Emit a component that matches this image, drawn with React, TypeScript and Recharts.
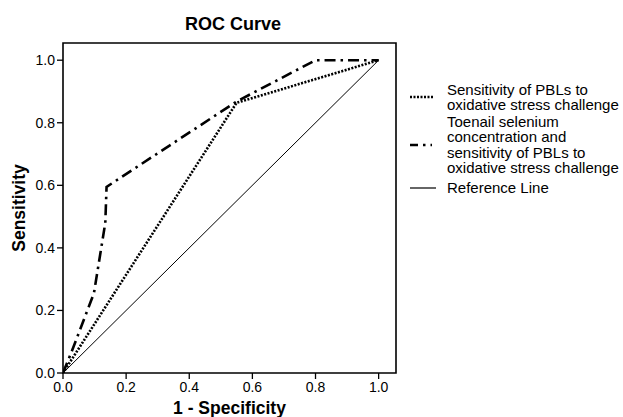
import { LineChart, Line, XAxis, YAxis, ReferenceArea, Label } from 'recharts';

// ROC curve points
const pblX = [0, 0.55, 1.0];
const pblY = [0, 0.864, 1.0];

const comboX = [0, 0.03, 0.098, 0.134, 0.138, 0.55, 0.8, 1.0];
const comboY = [0, 0.075, 0.255, 0.48, 0.595, 0.868, 1.0, 1.0];

const refX = [0, 1];
const refY = [0, 1];

const axisTicks = [0, 0.2, 0.4, 0.6, 0.8, 1.0];

const toPoints = (xs: number[], ys: number[]) => xs.map((x, i) => ({ x, y: ys[i] }));

const font = '"Liberation Sans", Arial, Helvetica, sans-serif';
const LH = 15.5;

function LegendItem({ center, lines, dash, width, sw }: { center: number; lines: string[]; dash?: string; width: number; sw: number }) {
    const h = lines.length * LH;
    return (
        <div style={{ position: 'absolute', left: 408, top: center - h / 2, height: h, display: 'flex', alignItems: 'center' }}>
            <svg width={34} height={10} style={{ flex: 'none' }}>
                <line x1={2} x2={2 + width} y1={5} y2={5} stroke="#000" strokeWidth={sw} strokeDasharray={dash} />
            </svg>
            <div style={{ marginLeft: 5, fontSize: 15, lineHeight: `${LH}px`, whiteSpace: 'nowrap' }}>
                {lines.map((l) => (
                    <div key={l}>{l}</div>
                ))}
            </div>
        </div>
    );
}

export default function App() {
    return (
        <div style={{ position: 'absolute', left: 0, top: 0, width: 623, height: 417, overflow: 'hidden', fontFamily: font, background: '#fff', color: '#000' }}>
            <div style={{ position: 'absolute', left: 133, top: 13, width: 200, textAlign: 'center', fontSize: 18, fontWeight: 'bold', lineHeight: '22px' }}>
                ROC Curve
            </div>
            <LineChart width={623} height={417} margin={{ top: 43, right: 227, left: 0, bottom: 0 }}>
                <XAxis
                    type="number"
                    dataKey="x"
                    domain={[0, 1.055]}
                    ticks={axisTicks}
                    tickFormatter={(v: number) => v.toFixed(1)}
                    allowDataOverflow
                    height={44}
                    tickSize={6}
                    tickMargin={3}
                    axisLine={false}
                    tickLine={{ stroke: '#000', strokeWidth: 1.3 }}
                    tick={{ fill: '#000', fontSize: 14, fontFamily: font }}
                >
                    <Label value="1 - Specificity" position="insideBottom" offset={3} style={{ fontSize: 17.5, fontWeight: 'bold', fill: '#000', fontFamily: font }} />
                </XAxis>
                <YAxis
                    type="number"
                    dataKey="y"
                    domain={[0, 1.055]}
                    ticks={axisTicks}
                    tickFormatter={(v: number) => v.toFixed(1)}
                    allowDataOverflow
                    width={63}
                    tickSize={6}
                    tickMargin={2}
                    axisLine={false}
                    tickLine={{ stroke: '#000', strokeWidth: 1.3 }}
                    tick={{ fill: '#000', fontSize: 14, fontFamily: font }}
                >
                    <Label
                        content={({ viewBox }: any) => {
                            const cx = 25;
                            const cy = viewBox.y + viewBox.height / 2;
                            return (
                                <text x={cx} y={cy} transform={`rotate(-90 ${cx} ${cy})`} textAnchor="middle" style={{ fontSize: 17.5, fontWeight: 'bold', fill: '#000', fontFamily: font }}>
                                    Sensitivity
                                </text>
                            );
                        }}
                    />
                </YAxis>
                <ReferenceArea x1={0} x2={1.055} y1={0} y2={1.055} fill="none" stroke="#000" strokeWidth={1.6} fillOpacity={0} ifOverflow="visible" />
                <Line data={toPoints(refX, refY)} dataKey="y" type="linear" stroke="#000" strokeWidth={1} dot={false} activeDot={false} isAnimationActive={false} />
                <Line data={toPoints(pblX, pblY)} dataKey="y" type="linear" stroke="#000" strokeWidth={2.6} strokeDasharray="2 1.5" dot={false} activeDot={false} isAnimationActive={false} />
                <Line data={toPoints(comboX, comboY)} dataKey="y" type="linear" stroke="#000" strokeWidth={2.6} strokeDasharray="11 5 2.5 5" dot={false} activeDot={false} isAnimationActive={false} />
            </LineChart>
            <LegendItem center={97} lines={['Sensitivity of PBLs to', 'oxidative stress challenge']} dash="2 1.5" width={24} sw={2.6} />
            <LegendItem center={144.5} lines={['Toenail selenium', 'concentration and', 'sensitivity of PBLs to', 'oxidative stress challenge']} dash="8 5 2.5 5" width={22} sw={2.6} />
            <LegendItem center={188} lines={['Reference Line']} width={26} sw={1.2} />
        </div>
    );
}
